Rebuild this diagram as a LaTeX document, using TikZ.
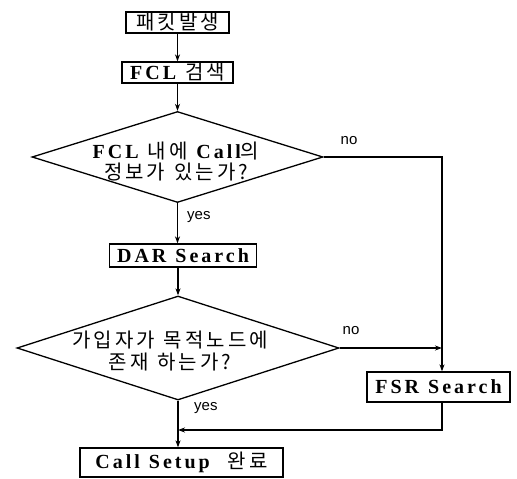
\documentclass[tikz,border=0pt]{standalone}
\usepackage{fontspec}
\usetikzlibrary{shapes.geometric,arrows.meta}
\newfontfamily\krfont{Noto Sans CJK KR}[LetterSpace=15]
\newfontfamily\latfont{Liberation Serif}[LetterSpace=15]
\newfontfamily\labfontfam{Liberation Sans}
\newcommand{\K}[1]{{\fontsize{20}{24}\selectfont\krfont #1}}
\newcommand{\La}[1]{{\fontsize{20}{24}\selectfont\latfont\bfseries #1}}
\newcommand{\gap}{\hspace{9pt}}
\begin{document}
\begin{tikzpicture}[x=1pt,y=-1pt,
  box/.style={draw, line width=1.3pt, inner sep=0pt, font=\fontsize{19}{22}\selectfont},
  cond/.style={diamond, draw, line width=1.3pt, inner sep=0pt},
  ctext/.style={align=center, inner sep=0pt, font=\fontsize{18}{22}\selectfont},
  line/.style={line width=1.3pt},
  arr/.style={line, -{Stealth[length=7pt,width=5pt]}},
  lab/.style={font=\fontsize{15}{17}\selectfont\labfontfam, inner sep=0pt}]
\useasboundingbox (0,0) rectangle (517,479);
\node[box, minimum width=103pt, minimum height=21pt] (b1) at (177.5,22.5) {\K{패킷발생}};
\node[box, minimum width=111pt, minimum height=21pt] (b2) at (177.5,72.5) {\La{FCL}\gap\K{검색}};
\node[cond, minimum width=291pt, minimum height=91pt] (d1) at (177.5,157) {};
\node[ctext] (t1) at (176,161) {\La{FCL}\gap\K{내에}\gap\La{Call}\K{의}\\[-1pt]\K{정보가}\gap\K{있는가?}};
\node[box, minimum width=147pt, minimum height=23pt] (dar) at (183,255.5) {\La{DAR\gap Search}};
\node[cond, minimum width=322pt, minimum height=104pt] (d2) at (178,348) {};
\node[ctext] (t2) at (170,351) {\K{가입자가}\gap\K{목적노드에}\\\K{존재}\gap\K{하는가?}};
\node[box, minimum width=143pt, minimum height=30pt] (fsr) at (438.5,387) {\La{FSR\gap Search}};
\node[box, minimum width=203pt, minimum height=29pt] (cs) at (181.5,462.5) {\La{Call\gap Setup}\hspace{18pt}\K{완료}};
\coordinate (vx) at (442,0);
\coordinate (rety) at (0,430);
\draw[arr] (b1.south) -- (b1.south |- b2.north);
\draw[arr] (b2.south) -- (b2.south |- d1.north);
\draw[arr] (d1.south) -- (d1.south |- dar.north);
\draw[arr] (d2.north |- dar.south) -- (d2.north);
\draw[arr] (d2.south) -- (d2.south |- cs.north);
\draw[arr] (d1.east) -- (d1.east -| vx) -- (vx |- fsr.north);
\draw[arr] (d2.east) -- (d2.east -| vx);
\draw[arr] (vx |- fsr.south) -- (vx |- rety) -- (d2.south |- rety);
\node[lab] (no1) at (349,141) {no};
\node[lab] (no2) at (351,331) {no};
\node[lab, anchor=west] (yes1) at (187,217) {yes};
\node[lab, anchor=west] (yes2) at (194,408) {yes};
\end{tikzpicture}
\end{document}
